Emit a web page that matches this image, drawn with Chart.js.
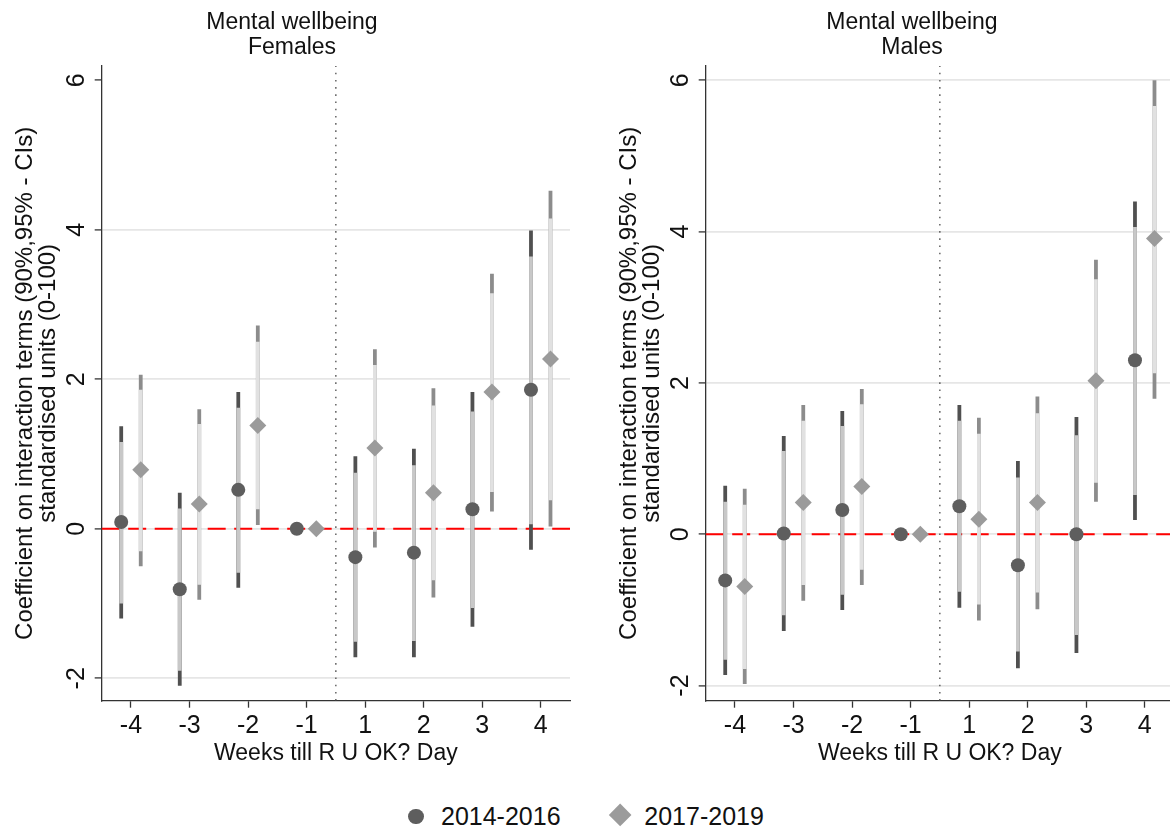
<!DOCTYPE html>
<html>
<head>
<meta charset="utf-8">
<script src="https://cdn.jsdelivr.net/npm/chart.js@4.4.1/dist/chart.umd.min.js"></script>
<style>
  html, body { margin: 0; padding: 0; background: #ffffff; }
  #page { position: relative; width: 1170px; height: 832px; overflow: hidden;
          font-family: "Liberation Sans", Arial, Helvetica, sans-serif; }
  #page canvas { position: absolute; top: 0; }
  #chartFemales { left: 0; }
  #chartMales { left: 604px; }
  .lg-text { position: absolute; font-size: 25px; line-height: 25px; color: #111; white-space: nowrap; }
  .lg-circle { position: absolute; width: 15.6px; height: 15.6px; border-radius: 50%; background: #5e5e5e; }
  .lg-diamond { position: absolute; width: 16.3px; height: 16.3px; background: #9b9b9b; transform: rotate(45deg); }
</style>
</head>
<body>
<div id="page">
  <canvas id="chartFemales" width="584" height="780"></canvas>
  <canvas id="chartMales" width="616" height="780"></canvas>
  <div class="lg-circle" style="left:408.2px; top:808.9px;"></div>
  <div class="lg-text" id="lgEarly" style="left:441px; top:804.3px;"></div>
  <div class="lg-diamond" style="left:611.9px; top:807.4px;"></div>
  <div class="lg-text" id="lgLate" style="left:644.3px; top:804.3px;"></div>
</div>
<script>
// Week labels around R U OK? Day and the y-axis tick values
const weekLabels = ['-4', '-3', '-2', '-1', '1', '2', '3', '4'];
const yTickValues = [-2, 0, 2, 4, 6];
const periodNames = ['2014-2016', '2017-2019'];
const yAxisTitle = ['Coefficient on interaction terms (90%,95% - CIs)', 'standardised units (0-100)'];
const xAxisTitle = 'Weeks till R U OK? Day';

// Females, 2014-2016: coefficient with 90% and 95% confidence bounds (week -1 is the reference)
const femEarlyCoef = [0.09, -0.81, 0.52, 0, -0.38, -0.32, 0.26, 1.86];
const femEarlyLo90 = [-1.00, -1.90, -0.59, null, -1.51, -1.50, -1.06, 0.06];
const femEarlyHi90 = [1.16, 0.27, 1.62, null, 0.75, 0.85, 1.57, 3.64];
const femEarlyLo95 = [-1.20, -2.10, -0.79, null, -1.72, -1.72, -1.31, -0.28];
const femEarlyHi95 = [1.37, 0.48, 1.83, null, 0.97, 1.07, 1.83, 3.99];

// Females, 2017-2019
const femLateCoef = [0.79, 0.33, 1.38, 0, 1.08, 0.48, 1.83, 2.27];
const femLateLo90 = [-0.30, -0.75, 0.26, null, -0.04, -0.69, 0.49, 0.38];
const femLateHi90 = [1.86, 1.40, 2.50, null, 2.19, 1.65, 3.15, 4.15];
const femLateLo95 = [-0.50, -0.95, 0.05, null, -0.25, -0.92, 0.23, 0.03];
const femLateHi95 = [2.06, 1.60, 2.72, null, 2.40, 1.88, 3.41, 4.52];

// Males, 2014-2016
const maleEarlyCoef = [-0.61, 0.01, 0.32, 0, 0.37, -0.41, 0.00, 2.30];
const maleEarlyLo90 = [-1.66, -1.07, -0.80, null, -0.76, -1.55, -1.33, 0.52];
const maleEarlyHi90 = [0.43, 1.10, 1.43, null, 1.50, 0.75, 1.31, 4.06];
const maleEarlyLo95 = [-1.86, -1.28, -1.00, null, -0.97, -1.77, -1.57, 0.19];
const maleEarlyHi95 = [0.64, 1.30, 1.63, null, 1.71, 0.97, 1.55, 4.40];

// Males, 2017-2019
const maleLateCoef = [-0.69, 0.42, 0.63, 0, 0.20, 0.42, 2.03, 3.91];
const maleLateLo90 = [-1.78, -0.67, -0.47, null, -0.93, -0.77, 0.68, 2.13];
const maleLateHi90 = [0.39, 1.50, 1.72, null, 1.33, 1.60, 3.37, 5.66];
const maleLateLo95 = [-1.98, -0.88, -0.67, null, -1.14, -0.99, 0.43, 1.79];
const maleLateHi95 = [0.60, 1.71, 1.92, null, 1.54, 1.82, 3.63, 6.00];

const FONT = '"Liberation Sans", Arial, Helvetica, sans-serif';
Chart.defaults.font.family = FONT;
Chart.defaults.color = '#111';

document.getElementById('lgEarly').textContent = periodNames[0];
document.getElementById('lgLate').textContent = periodNames[1];

// The two periods sit either side of each week's tick
const SHIFT = 1 / 6;

function ciSegments(lo, hi, shift) {
  const pts = [];
  lo.forEach((l, i) => {
    if (l === null || hi[i] === null) return;
    const x = i + 1 + shift;
    pts.push({ x: x, y: l }, { x: x, y: hi[i] }, { x: x, y: null });
  });
  return pts;
}

function pointSet(coef, shift) {
  return coef.map((v, i) => ({ x: i + 1 + shift, y: v }));
}

function segmentDataset(data, color) {
  return {
    type: 'line', data: data, borderColor: color, borderWidth: 3.8,
    borderCapStyle: 'butt', pointRadius: 0, spanGaps: false, fill: false, tension: 0
  };
}

function buildPanel(canvasId, cfg) {
  const datasets = [
    { type: 'line', label: periodNames[0], data: pointSet(cfg.early.coef, -SHIFT), showLine: false,
      pointStyle: 'circle', pointRadius: 7, pointBackgroundColor: '#5e5e5e', pointBorderWidth: 0 },
    { type: 'line', label: periodNames[1], data: pointSet(cfg.late.coef, SHIFT), showLine: false,
      pointStyle: 'rectRot', pointRadius: 8.5, pointBackgroundColor: '#9b9b9b', pointBorderWidth: 0 },
    segmentDataset(ciSegments(cfg.early.lo90, cfg.early.hi90, -SHIFT), '#c8c8c8'),
    segmentDataset(ciSegments(cfg.late.lo90, cfg.late.hi90, SHIFT), '#e1e1e1'),
    segmentDataset(ciSegments(cfg.early.lo95, cfg.early.hi95, -SHIFT), '#505050'),
    segmentDataset(ciSegments(cfg.late.lo95, cfg.late.hi95, SHIFT), '#8c8c8c'),
    // zero reference line
    { type: 'line', data: [{ x: 0.5, y: 0 }, { x: 8.5, y: 0 }], borderColor: '#ff0000',
      borderWidth: 2.2, borderDash: [18, 8.5], pointRadius: 0, fill: false },
    // divider between the weeks before and after the day
    { type: 'line', data: [{ x: 4.5, y: cfg.yMin }, { x: 4.5, y: cfg.yMax }], borderColor: '#4d4d4d',
      borderWidth: 1.3, borderDash: [1.6, 5.6], pointRadius: 0, fill: false }
  ];

  return new Chart(document.getElementById(canvasId), {
    type: 'line',
    data: { datasets: datasets },
    options: {
      responsive: false,
      animation: false,
      events: [],
      layout: { padding: 0 },
      plugins: {
        legend: { display: false },
        tooltip: { enabled: false },
        title: {
          display: true, text: cfg.title, color: '#111',
          font: { size: 23, weight: 'normal', lineHeight: 1.08 },
          padding: { top: 10.6, bottom: 5.7 }
        }
      },
      scales: {
        x: {
          type: 'linear', min: 0.5, max: 8.5,
          afterBuildTicks: s => { s.ticks = weekLabels.map((_, i) => ({ value: i + 1 })); },
          afterFit: s => { s.height = 79.3; },
          grid: { display: true, drawOnChartArea: false, drawTicks: true, tickLength: 7,
                  tickColor: '#333', tickWidth: 1.3 },
          border: { display: true, color: '#333', width: 1.3 },
          ticks: { autoSkip: false, minRotation: 0, maxRotation: 0, padding: 3.6,
                   font: { size: 25 }, color: '#111',
                   callback: v => weekLabels[Math.round(v) - 1] },
          title: { display: true, text: xAxisTitle, color: '#111',
                   font: { size: 23, lineHeight: 1.2 }, padding: { top: 0, bottom: 12.4 } }
        },
        y: {
          type: 'linear', position: 'left', min: cfg.yMin, max: cfg.yMax,
          afterBuildTicks: s => { s.ticks = yTickValues.map(v => ({ value: v })); },
          afterFit: s => { s.width = 101.7; },
          grid: {
            color: c => (cfg.hideTopGrid && c.tick && c.tick.value === 6) ? 'rgba(0,0,0,0)' : '#e6e6e6',
            lineWidth: 1.8, drawTicks: true, tickLength: 7, tickColor: '#333', tickWidth: 1.3
          },
          border: { display: true, color: '#333', width: 1.3 },
          ticks: { minRotation: 90, maxRotation: 90, crossAlign: 'center', padding: 6.6,
                   font: { size: 25 }, color: '#111', callback: v => String(v) },
          title: { display: true, text: yAxisTitle, color: '#111',
                   font: { size: 24, lineHeight: 0.98 }, padding: { top: 13.2, bottom: 0 } }
        },
        // empty right-hand strip keeping the plot narrower than the title band
        yEdge: {
          type: 'linear', position: 'right', display: true,
          grid: { display: false, drawTicks: false }, border: { display: false },
          ticks: { display: false },
          afterFit: s => { s.width = cfg.rightStrip; }
        }
      }
    }
  });
}

buildPanel('chartFemales', {
  title: ['Mental wellbeing', 'Females'],
  yMin: -2.3, yMax: 6.19, hideTopGrid: true, rightStrip: 14,
  early: { coef: femEarlyCoef, lo90: femEarlyLo90, hi90: femEarlyHi90, lo95: femEarlyLo95, hi95: femEarlyHi95 },
  late: { coef: femLateCoef, lo90: femLateLo90, hi90: femLateHi90, lo95: femLateLo95, hi95: femLateHi95 }
});

buildPanel('chartMales', {
  title: ['Mental wellbeing', 'Males'],
  yMin: -2.2, yMax: 6.19, hideTopGrid: false, rightStrip: 46,
  early: { coef: maleEarlyCoef, lo90: maleEarlyLo90, hi90: maleEarlyHi90, lo95: maleEarlyLo95, hi95: maleEarlyHi95 },
  late: { coef: maleLateCoef, lo90: maleLateLo90, hi90: maleLateHi90, lo95: maleLateLo95, hi95: maleLateHi95 }
});
</script>
</body>
</html>
